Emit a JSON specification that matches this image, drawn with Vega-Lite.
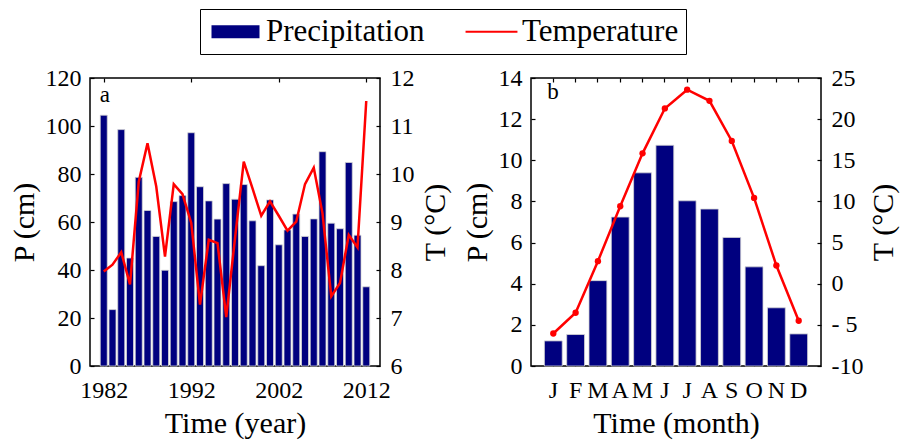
{
  "$schema": "https://vega.github.io/schema/vega-lite/v6.json",
  "background": "white",
  "padding": {"left": 8, "top": 8, "right": 6, "bottom": 4},
  "datasets": {
    "annual": [
      {"year": 1982, "precip": 104.5, "temp": 7.97},
      {"year": 1983, "precip": 23.5, "temp": 8.11},
      {"year": 1984, "precip": 98.5, "temp": 8.37},
      {"year": 1985, "precip": 45.0, "temp": 7.70},
      {"year": 1986, "precip": 78.6, "temp": 9.84},
      {"year": 1987, "precip": 64.8, "temp": 10.64},
      {"year": 1988, "precip": 54.0, "temp": 9.74},
      {"year": 1989, "precip": 39.9, "temp": 8.28},
      {"year": 1990, "precip": 68.5, "temp": 9.79},
      {"year": 1991, "precip": 71.0, "temp": 9.58},
      {"year": 1992, "precip": 97.2, "temp": 8.98},
      {"year": 1993, "precip": 74.7, "temp": 7.28},
      {"year": 1994, "precip": 68.8, "temp": 8.63},
      {"year": 1995, "precip": 61.2, "temp": 8.56},
      {"year": 1996, "precip": 76.0, "temp": 7.02},
      {"year": 1997, "precip": 69.5, "temp": 8.66},
      {"year": 1998, "precip": 75.6, "temp": 10.26},
      {"year": 1999, "precip": 60.5, "temp": 9.70},
      {"year": 2000, "precip": 41.8, "temp": 9.13},
      {"year": 2001, "precip": 69.2, "temp": 9.43},
      {"year": 2002, "precip": 50.5, "temp": 9.13},
      {"year": 2003, "precip": 56.7, "temp": 8.82},
      {"year": 2004, "precip": 63.3, "temp": 9.01},
      {"year": 2005, "precip": 54.0, "temp": 9.79},
      {"year": 2006, "precip": 61.3, "temp": 10.13},
      {"year": 2007, "precip": 89.3, "temp": 9.18},
      {"year": 2008, "precip": 59.5, "temp": 7.45},
      {"year": 2009, "precip": 57.2, "temp": 7.73},
      {"year": 2010, "precip": 84.8, "temp": 8.73},
      {"year": 2011, "precip": 54.5, "temp": 8.47},
      {"year": 2012, "precip": 33.0, "temp": 11.52}
    ],
    "monthly": [
      {"month": 1, "precip": 1.22, "temp": -6.05},
      {"month": 2, "precip": 1.53, "temp": -3.53},
      {"month": 3, "precip": 4.15, "temp": 2.74},
      {"month": 4, "precip": 7.24, "temp": 9.41},
      {"month": 5, "precip": 9.39, "temp": 15.84},
      {"month": 6, "precip": 10.73, "temp": 21.3},
      {"month": 7, "precip": 8.03, "temp": 23.58},
      {"month": 8, "precip": 7.63, "temp": 22.23},
      {"month": 9, "precip": 6.25, "temp": 17.35},
      {"month": 10, "precip": 4.82, "temp": 10.43},
      {"month": 11, "precip": 2.83, "temp": 2.21},
      {"month": 12, "precip": 1.56, "temp": -4.5}
    ]
  },
  "config": {
    "font": "Liberation Serif",
    "view": {"stroke": "black", "strokeWidth": 1.5},
    "axis": {
      "labelFont": "Liberation Serif",
      "titleFont": "Liberation Serif",
      "labelFontSize": 24,
      "titleFontSize": 30,
      "titleFontWeight": "normal",
      "labelColor": "black",
      "titleColor": "black",
      "tickColor": "black",
      "tickSize": -4,
      "tickWidth": 1.2,
      "domain": false,
      "grid": false,
      "labelPadding": 13,
      "labelFlush": false,
      "labelOverlap": false,
      "labelBound": false
    },
    "axisBottom": {"labelPadding": 16, "titlePadding": 6},
    "axisTop": {"labels": false},
    "axisLeft": {"titlePadding": 6},
    "axisRight": {"labelPadding": 14, "titlePadding": 6}
  },
  "spacing": 10,
  "hconcat": [
    {
      "width": 290,
      "height": 288,
      "layer": [
        {
          "layer": [
            {
              "data": {"name": "annual"},
              "mark": {"type": "bar", "width": 7, "stroke": "#d4d4d4", "strokeWidth": 0.8},
              "encoding": {
                "x": {
                  "field": "year", "type": "quantitative",
                  "scale": {"domain": [1981, 2013], "nice": false, "zero": false},
                  "axis": {"orient": "bottom", "values": [1982, 1992, 2002, 2012], "format": "d", "title": "Time (year)"}
                },
                "y": {
                  "field": "precip", "type": "quantitative",
                  "scale": {"domain": [0, 120], "nice": false},
                  "axis": {"values": [0, 20, 40, 60, 80, 100, 120], "title": "P (cm)"}
                },
                "color": {
                  "datum": "Precipitation",
                  "scale": {"domain": ["Precipitation", "Temperature"], "range": ["#00007f", "#ff0000"]},
                  "legend": {
                    "title": null,
                    "orient": "none",
                    "legendX": 110,
                    "legendY": -69,
                    "direction": "horizontal",
                    "labelFont": "Liberation Serif",
                    "labelFontSize": 31,
                    "labelColor": "black",
                    "labelOffset": 15,
                    "symbolSize": 900,
                    "symbolOffset": 13,
                    "symbolType": {"expr": "datum.value === 'Precipitation' ? 'M-1.6,-0.43H1.6V0.43H-1.6Z' : 'M-1.73,-0.07H1.73V0.07H-1.73Z'"},
                    "symbolStrokeWidth": 0,
                    "symbolOpacity": 1,
                    "columnPadding": 38,
                    "padding": 7,
                    "strokeColor": "black",
                    "fillColor": "white",
                    "encode": {
                      "legend": {"strokeWidth": {"value": 1.5}}
                    }
                  }
                }
              }
            },
            {
              "data": {"values": [{"tag": "a"}]},
              "mark": {"type": "text", "align": "left", "baseline": "alphabetic", "fontSize": 23, "font": "Liberation Serif", "color": "black"},
              "encoding": {
                "x": {"datum": 1981.55, "type": "quantitative"},
                "y": {"datum": 110, "type": "quantitative"},
                "text": {"field": "tag"}
              }
            }
          ]
        },
        {
          "data": {"name": "annual"},
          "mark": {"type": "line", "strokeWidth": 2.5},
          "encoding": {
            "x": {
              "field": "year", "type": "quantitative",
              "axis": {"orient": "top", "values": [1982, 1992, 2002, 2012], "title": null}
            },
            "y": {
              "field": "temp", "type": "quantitative",
              "scale": {"domain": [6, 12], "nice": false, "zero": false},
              "axis": {"orient": "right", "values": [6, 7, 8, 9, 10, 11, 12], "title": "T (°C)", "titleAngle": 270, "titleBaseline": "top"}
            },
            "color": {"datum": "Temperature", "legend": null}
          }
        }
      ],
      "resolve": {"scale": {"y": "independent"}, "axis": {"x": "independent", "y": "independent"}}
    },
    {
      "width": 290,
      "height": 288,
      "layer": [
        {
          "layer": [
            {
              "data": {"name": "monthly"},
              "mark": {"type": "bar", "stroke": "#d4d4d4", "strokeWidth": 0.8},
              "encoding": {
                "x": {
                  "field": "month", "type": "ordinal",
                  "scale": {"type": "band", "domain": [1, 2, 3, 4, 5, 6, 7, 8, 9, 10, 11, 12], "paddingInner": 0.2, "paddingOuter": 0.6},
                  "axis": {
                    "orient": "bottom",
                    "labelAngle": 0,
                    "labelOverlap": false,
                    "labelExpr": "['J','F','M','A','M','J','J','A','S','O','N','D'][datum.value - 1]",
                    "title": "Time (month)"
                  }
                },
                "y": {
                  "field": "precip", "type": "quantitative",
                  "scale": {"domain": [0, 14], "nice": false},
                  "axis": {"values": [0, 2, 4, 6, 8, 10, 12, 14], "title": "P (cm)"}
                },
                "color": {"datum": "Precipitation", "legend": null}
              }
            },
            {
              "data": {"values": [{"tag": "b"}]},
              "mark": {"type": "text", "align": "left", "baseline": "alphabetic", "dx": -6, "fontSize": 23, "font": "Liberation Serif", "color": "black"},
              "encoding": {
                "x": {"datum": 1, "type": "ordinal"},
                "y": {"datum": 13.0, "type": "quantitative"},
                "text": {"field": "tag"}
              }
            }
          ]
        },
        {
          "data": {"name": "monthly"},
          "mark": {"type": "line", "strokeWidth": 2.5, "point": {"filled": true, "size": 40}},
          "encoding": {
            "x": {
              "field": "month", "type": "ordinal",
              "axis": {"orient": "top", "labelAngle": 0, "title": null}
            },
            "y": {
              "field": "temp", "type": "quantitative",
              "scale": {"domain": [-10, 25], "nice": false, "zero": false},
              "axis": {
                "orient": "right",
                "values": [-10, -5, 0, 5, 10, 15, 20, 25],
                "labelExpr": "datum.value == -5 ? '- 5' : datum.value == -10 ? '-10' : datum.label",
                "title": "T (°C)", "titleAngle": 270, "titleBaseline": "top"
              }
            },
            "color": {"datum": "Temperature", "legend": null}
          }
        }
      ],
      "resolve": {"scale": {"y": "independent"}, "axis": {"x": "independent", "y": "independent"}}
    }
  ]
}
